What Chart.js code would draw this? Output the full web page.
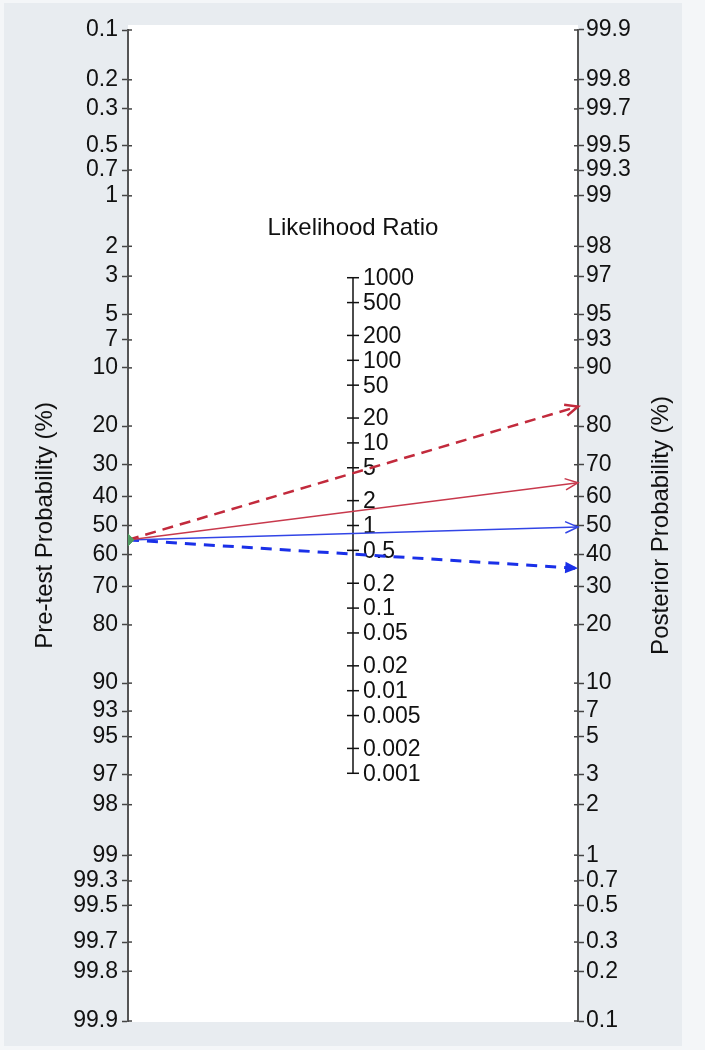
<!DOCTYPE html>
<html>
<head>
<meta charset="utf-8">
<title>Fagan nomogram</title>
<script src="https://cdn.jsdelivr.net/npm/chart.js@4/dist/chart.umd.min.js"></script>
<style>
  html, body { margin: 0; padding: 0; background: #f4f6f8; }
  #nomogram { display: block; }
</style>
</head>
<body>
<canvas id="nomogram" width="705" height="1050"></canvas>
<script>
// tick labels of the three axes
const preTestTicks = [0.1, 0.2, 0.3, 0.5, 0.7, 1, 2, 3, 5, 7, 10, 20, 30, 40, 50, 60, 70, 80, 90, 93, 95, 97, 98, 99, 99.3, 99.5, 99.7, 99.8, 99.9];
const postTicks = [99.9, 99.8, 99.7, 99.5, 99.3, 99, 98, 97, 95, 93, 90, 80, 70, 60, 50, 40, 30, 20, 10, 7, 5, 3, 2, 1, 0.7, 0.5, 0.3, 0.2, 0.1];
const lrTicks = [1000, 500, 200, 100, 50, 20, 10, 5, 2, 1, 0.5, 0.2, 0.1, 0.05, 0.02, 0.01, 0.005, 0.002, 0.001];

const preTest = 55;
const posteriors = [84, 64.5, 49.5, 35.5];
const lineColors = ['#c22a3c', '#c8394c', '#3245e6', '#1a30e8'];
const lineWidths = [2.5, 1.5, 1.5, 3];
const lineDashes = [[11, 7], [], [], [11, 8]];
const arrowKinds = ['open', 'open', 'open', 'filled'];

const FONT = '"Liberation Sans", Arial, Helvetica, sans-serif';
const TEXT = '#111111';
const LIM = Math.log(999);  // logit of 99.9%
const logit = p => Math.log(p / (100 - p));

const nomogramPlugin = {
    id: 'nomogram',
    beforeDraw(chart) {
        const { ctx, chartArea: a } = chart;
        ctx.save();
        ctx.fillStyle = '#e8ecf0';
        ctx.fillRect(4, 3, 678, 1043);
        ctx.fillStyle = '#ffffff';
        ctx.fillRect(a.left, a.top - 5, a.right - a.left, a.bottom - a.top + 6);
        ctx.restore();
    },
    beforeDatasetsDraw(chart) {
        const { ctx, scales } = chart;

        // small inner halves so the side ticks cross their axis
        ctx.save();
        ctx.strokeStyle = '#444';
        ctx.lineWidth = 1.5;
        [['left', 1], ['right', -1]].forEach(([id, dir]) => {
            const s = scales[id];
            const x = id === 'left' ? s.right : s.left;
            s.ticks.forEach(t => {
                const y = s.getPixelForValue(t.value);
                ctx.beginPath();
                ctx.moveTo(x, y);
                ctx.lineTo(x + dir * 4, y);
                ctx.stroke();
            });
        });
        ctx.restore();

        const xm = scales.x.getPixelForValue(1);
        const yOf = lr => scales.left.getPixelForValue(Math.log(lr) / 2);
        ctx.save();
        ctx.strokeStyle = '#111';
        ctx.lineWidth = 1.5;
        ctx.beginPath();
        ctx.moveTo(xm, yOf(lrTicks[0]));
        ctx.lineTo(xm, yOf(lrTicks[lrTicks.length - 1]));
        ctx.stroke();
        ctx.fillStyle = TEXT;
        ctx.font = '23px ' + FONT;
        ctx.textAlign = 'left';
        ctx.textBaseline = 'middle';
        lrTicks.forEach(lr => {
            const y = yOf(lr);
            ctx.beginPath();
            ctx.moveTo(xm - 6, y);
            ctx.lineTo(xm + 6, y);
            ctx.stroke();
            ctx.fillText(String(lr), xm + 10, y + 1);
        });
        ctx.textAlign = 'center';
        ctx.font = '24px ' + FONT;
        ctx.fillText('Likelihood Ratio', xm, 228);

        // right title reads bottom to top, like the left one
        ctx.save();
        ctx.translate(661, (chart.chartArea.top + chart.chartArea.bottom) / 2);
        ctx.rotate(-Math.PI / 2);
        ctx.font = '24px ' + FONT;
        ctx.fillText('Posterior Probability (%)', 0, 0);
        ctx.restore();
        ctx.restore();
    },
    afterDatasetsDraw(chart) {
        const { ctx } = chart;
        chart.data.datasets.forEach((ds, i) => {
            if (!ds.arrow) return;
            const pts = chart.getDatasetMeta(i).data;
            const p0 = pts[0], p1 = pts[pts.length - 1];
            const ang = Math.atan2(p1.y - p0.y, p1.x - p0.x);
            const len = 14, spread = 0.42;
            const ax = p1.x - len * Math.cos(ang - spread), ay = p1.y - len * Math.sin(ang - spread);
            const bx = p1.x - len * Math.cos(ang + spread), by = p1.y - len * Math.sin(ang + spread);
            ctx.save();
            ctx.strokeStyle = ds.borderColor;
            ctx.fillStyle = ds.borderColor;
            ctx.lineWidth = Math.max(1.5, ds.borderWidth);
            ctx.lineJoin = 'miter';
            ctx.beginPath();
            ctx.moveTo(ax, ay);
            ctx.lineTo(p1.x, p1.y);
            ctx.lineTo(bx, by);
            if (ds.arrow === 'filled') {
                ctx.closePath();
                ctx.fill();
            } else {
                ctx.stroke();
            }
            ctx.restore();
        });
    }
};

const lineSets = posteriors.map((post, i) => ({
    data: [{ x: 0, y: -logit(preTest) }, { x: 2, y: logit(post) }],
    borderColor: lineColors[i],
    borderWidth: lineWidths[i],
    borderDash: lineDashes[i],
    pointRadius: 0,
    arrow: arrowKinds[i],
    yAxisID: 'left'
}));

const markerSet = {
    type: 'scatter',
    data: [{ x: 0, y: -logit(preTest) }],
    pointStyle: 'rectRot',
    pointRadius: 6,
    backgroundColor: '#4f9a60',
    borderColor: '#4f9a60',
    yAxisID: 'left'
};

const tickFont = { family: FONT, size: 23 };

new Chart(document.getElementById('nomogram'), {
    type: 'line',
    data: { datasets: [markerSet, ...lineSets] },
    options: {
        responsive: false,
        animation: false,
        layout: { padding: { top: 30, bottom: 29, left: 0, right: 0 } },
        plugins: { legend: { display: false }, tooltip: { enabled: false } },
        scales: {
            x: { type: 'linear', min: 0, max: 2, display: false },
            left: {
                type: 'linear',
                position: 'left',
                min: -LIM,
                max: LIM,
                afterBuildTicks: s => { s.ticks = preTestTicks.map(p => ({ value: -logit(p) })); },
                afterFit: s => { s.width = 128; },
                ticks: {
                    autoSkip: false,
                    padding: 4,
                    color: TEXT,
                    font: tickFont,
                    callback: (v, i) => String(preTestTicks[i])
                },
                grid: { drawOnChartArea: false, tickLength: 6, tickColor: '#444', tickWidth: 1.5 },
                border: { color: '#555', width: 2 },
                title: {
                    display: true,
                    text: 'Pre-test Probability (%)',
                    color: TEXT,
                    font: { family: FONT, size: 24 },
                    padding: { top: 31, bottom: 0 }
                }
            },
            right: {
                type: 'linear',
                position: 'right',
                min: -LIM,
                max: LIM,
                afterBuildTicks: s => { s.ticks = postTicks.map(p => ({ value: logit(p) })); },
                afterFit: s => { s.width = 127; },
                ticks: {
                    autoSkip: false,
                    padding: 2,
                    color: TEXT,
                    font: tickFont,
                    callback: (v, i) => String(postTicks[i])
                },
                grid: { drawOnChartArea: false, tickLength: 6, tickColor: '#444', tickWidth: 1.5 },
                border: { color: '#555', width: 2 }
            }
        }
    },
    plugins: [nomogramPlugin]
});
</script>
</body>
</html>
